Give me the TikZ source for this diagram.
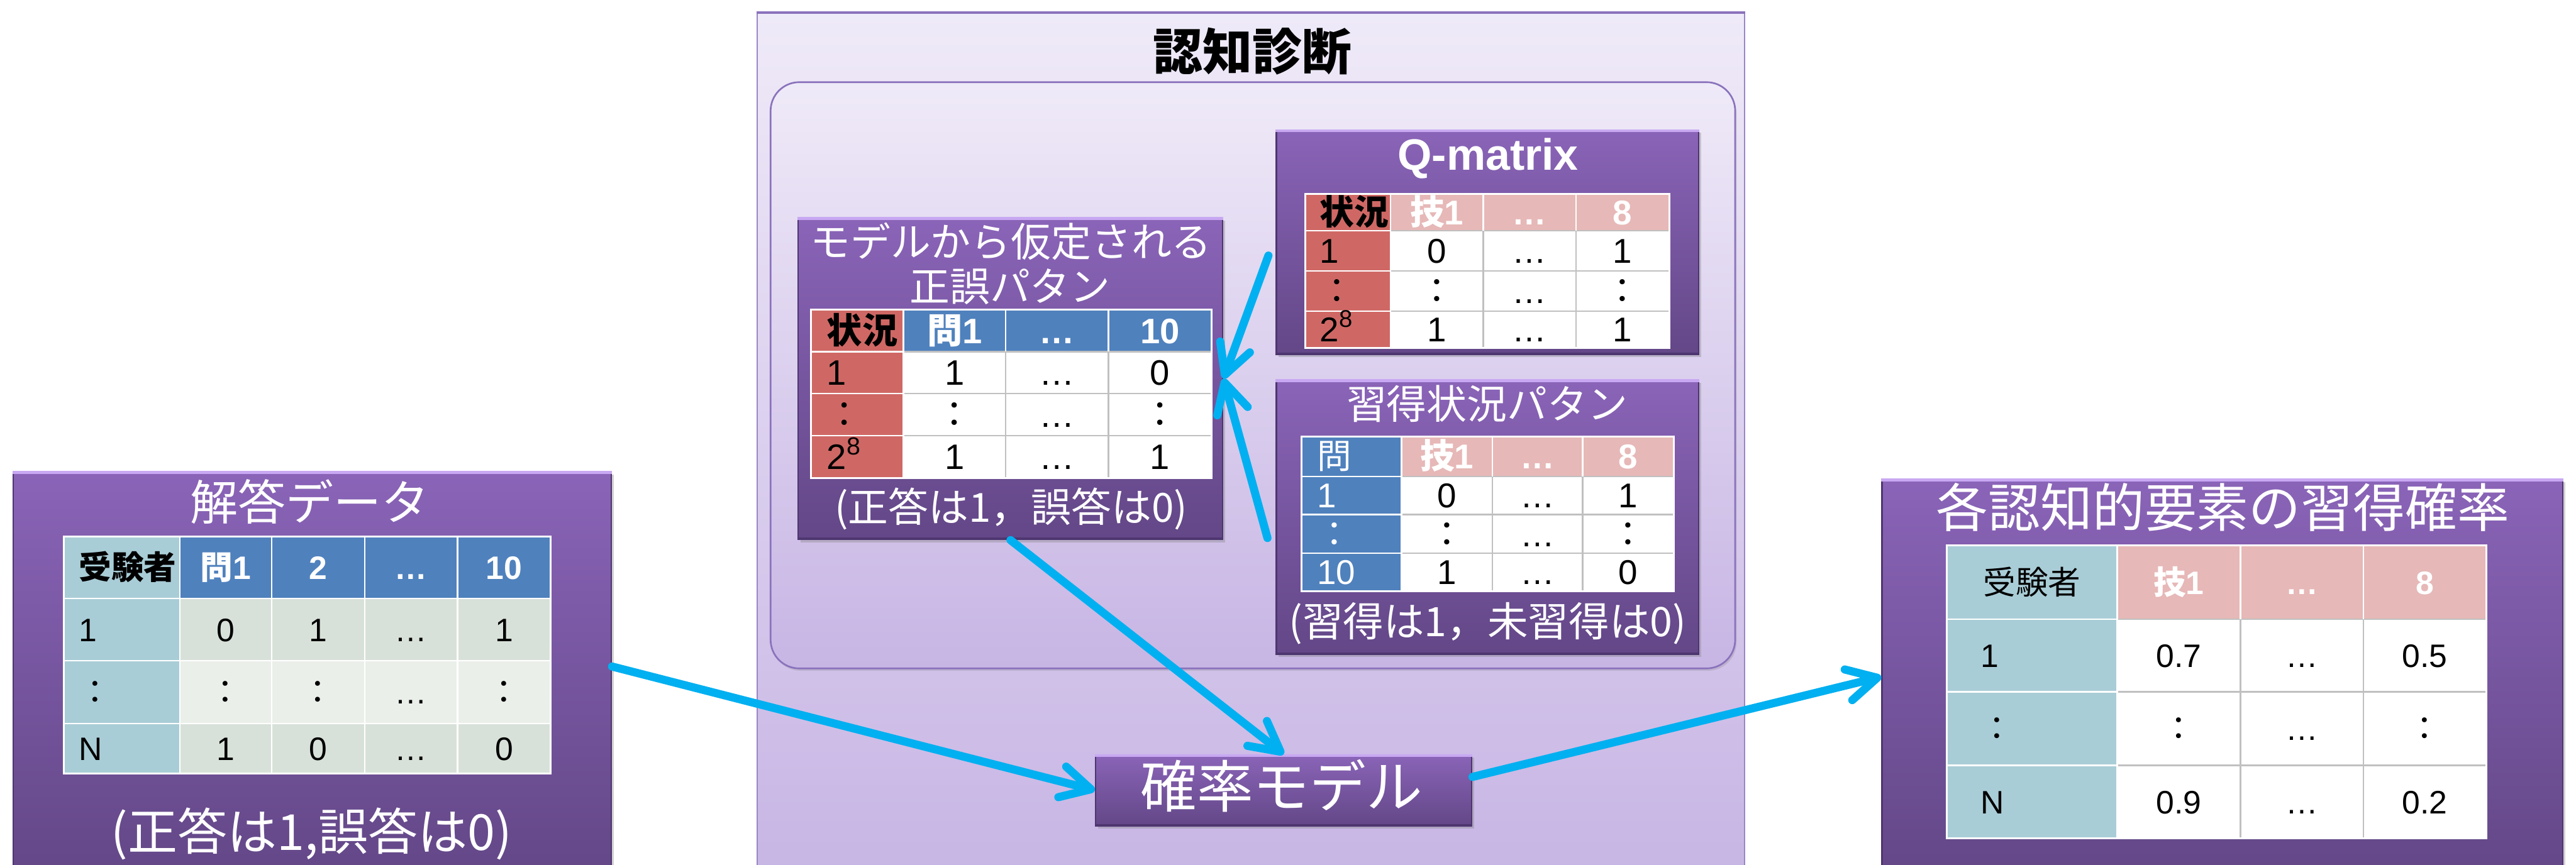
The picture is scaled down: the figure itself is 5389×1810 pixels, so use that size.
\documentclass[tikz,border=0pt]{standalone}
\usepackage{fontspec}
\setmainfont{Liberation Sans}
\newfontfamily\jp{Noto Sans CJK JP}
\usetikzlibrary{arrows.meta,shadows,calc}
\definecolor{pTop}{HTML}{8A64B8}
\definecolor{pBot}{HTML}{634787}
\definecolor{pLight}{HTML}{C8A8F2}
\definecolor{pDark}{HTML}{4E3670}
\definecolor{cyanA}{HTML}{00B0F0}
\definecolor{hBlue}{HTML}{4F81BD}
\definecolor{hRed}{HTML}{CF6865}
\definecolor{hPink}{HTML}{E6B8B7}
\definecolor{lBlue}{HTML}{A9CDD7}
\definecolor{gA}{HTML}{D8E1D9}
\definecolor{gB}{HTML}{EAEFEA}
\definecolor{gridG}{HTML}{C0C0C0}
\definecolor{panTop}{HTML}{EFEAF8}
\definecolor{panBot}{HTML}{C7B5E4}
\definecolor{panLine}{HTML}{9A86C6}
\definecolor{panEdge}{HTML}{8A72BC}
\newcommand\fs[1]{\fontsize{#1pt}{#1pt}\selectfont}
\newcommand\bevel[1]{%
  \draw[pLight, line width=0.6pt] ([yshift=-0.3pt]#1.north west) -- ([yshift=-0.3pt]#1.north east);
  \draw[pDark, line width=0.5pt] ([yshift=0.25pt]#1.south west) -- ([yshift=0.25pt]#1.south east);}
\begin{document}
\begin{tikzpicture}[x=0.1pt,y=-0.1pt,
  pbox/.style={draw=pDark, line width=0.3pt, top color=pTop, bottom color=pBot, inner sep=0pt,
    drop shadow={opacity=0.35, shadow xshift=0.5pt, shadow yshift=-0.6pt}},
  outerpanel/.style={draw=panLine, line width=0.3pt, top color=panTop, bottom color=panBot, inner sep=0pt},
  innerpanel/.style={draw=panEdge, line width=0.35pt, rounded corners=6pt, top color=panTop, bottom color=panBot, inner sep=0pt,
    drop shadow={opacity=0.25, shadow xshift=0.3pt, shadow yshift=-0.5pt}},
  wt/.style={text=white, inner sep=0pt},
  bfn/.style={execute at begin node=\bfseries},
  tA/.style={inner sep=0pt, text height=4.9pt, text depth=0pt, font=\fs{6.8}},
  tB/.style={inner sep=0pt, text height=5.3pt, text depth=0pt, font=\fs{7.4}},
  tC/.style={inner sep=0pt, text height=5.2pt, text depth=0pt, font=\fs{7.2}},
  tE/.style={inner sep=0pt, text height=4.9pt, text depth=0pt, font=\fs{6.8}},
  arr/.style={draw=cyanA, line width=1.7pt, line cap=round, -{Straight Barb[length=6.2pt,width=6.6pt,round]}}
]
\useasboundingbox (0,0) rectangle (5389,1810);
\fill[white] (0,0) rectangle (5389,1810);
\begin{scope}
\clip (0,0) rectangle (5389,1810);

% ---------- outer panel ----------
\node[outerpanel, minimum width=206.6pt, minimum height=180.4pt] (panel) at (2617,928) {};
\draw[panEdge, line width=0.5pt] ([yshift=-0.2pt]panel.north west) -- ([yshift=-0.2pt]panel.north east);
\node[inner sep=0pt, font=\jp\fs{10.4}\bfseries] (ptitle) at (2620,107) {認知診断};
\node[innerpanel, minimum width=201.8pt, minimum height=122.7pt] (inner) at (2621,785.5) {};

% ---------- boxes ----------
\node[pbox, minimum width=125.1pt, minimum height=84.3pt] (boxA) at (653.5,1408.5) {};
\node[pbox, minimum width=88.8pt, minimum height=67.3pt] (boxB) at (2114,792.5) {};
\node[pbox, minimum width=88.4pt, minimum height=47.0pt] (boxC) at (3112,507) {};
\node[pbox, minimum width=88.4pt, minimum height=57.4pt] (boxD) at (3112,1082) {};
\node[pbox, minimum width=142.4pt, minimum height=82.7pt] (boxE) at (4649,1416.5) {};
\node[pbox, minimum width=78.7pt, minimum height=14.8pt] (boxF) at (2685.5,1654) {};
\bevel{boxA}\bevel{boxB}\bevel{boxC}\bevel{boxD}\bevel{boxE}\bevel{boxF}

% ---------- titles and captions ----------
\node[wt, font=\jp\fs{10.0}] (tA) at (648,1050) {解答データ};
\node[wt, font=\jp\fs{10.4}] (cA) at (652,1745) {(正答は1,誤答は0)};
\node[wt, font=\jp\fs{8.4}] (tB1) at (2115,505) {モデルから仮定される};
\node[wt, font=\jp\fs{8.4}] (tB2) at (2113,600) {正誤パタン};
\node[wt, font=\jp\fs{8.4}] (cB) at (2115,1065) {(正答は1，誤答は0)};
\node[wt, font=\fs{9.2}\bfseries] (tC) at (3113,331) {Q-matrix};
\node[wt, font=\jp\fs{8.4}] (tD) at (3111,845) {習得状況パタン};
\node[wt, font=\jp\fs{8.5}] (cD) at (3112,1305) {(習得は1，未習得は0)};
\node[wt, font=\jp\fs{10.9}] (tE) at (4650,1062) {各認知的要素の習得確率};
\node[wt, font=\jp\fs{11.8}] (tF) at (2681,1644) {確率モデル};

% ---------- table A (解答データ) ----------
\fill[gA] (376,1253) rectangle (1152,1383);
\fill[gB] (376,1383) rectangle (1152,1514);
\fill[gA] (376,1514) rectangle (1152,1619);
\fill[lBlue] (133,1123) rectangle (376,1619);
\fill[hBlue] (376,1123) rectangle (1152,1253);
\foreach \x in {376,568,763,957} \draw[white, line width=0.3pt] (\x,1123) -- (\x,1619);
\foreach \y in {1253,1383,1514} \draw[white, line width=0.3pt] (133,\y) -- (1152,\y);
\draw[white, line width=0.4pt] (133,1123) rectangle (1152,1619);
\node[tA, bfn, anchor=west] (A00) at (163,1188) {\jp 受験者};
\foreach \xx/\t [count=\c] in {472/{{\jp 問}1}, 665.5/2, 860/…, 1054.5/10}
  \node[tA, bfn, text=white] (A0\c) at (\xx,1188) {\t};
\foreach \y/\a/\b/\cc/\d/\e [count=\r] in {1318/1/0/1/…/1, 1448.5/{\jp ：}/{\jp ：}/{\jp ：}/…/{\jp ：}, 1566.5/N/1/0/…/0} {
  \node[tA, anchor=west] (A\r0) at (163,\y) {\a};
  \node[tA] (A\r1) at (472,\y) {\b};
  \node[tA] (A\r2) at (665.5,\y) {\cc};
  \node[tA] (A\r3) at (860,\y) {\d};
  \node[tA] (A\r4) at (1054.5,\y) {\e};
}

% ---------- table B (正誤パタン) ----------
\fill[white] (1890,736) rectangle (2534,1000);
\fill[hRed] (1696,648) rectangle (1890,1000);
\fill[hBlue] (1890,648) rectangle (2534,736);
\foreach \x in {2104,2319} \draw[gridG, line width=0.3pt] (\x,736) -- (\x,1000);
\foreach \y in {824,912} \draw[gridG, line width=0.3pt] (1890,\y) -- (2534,\y);
\draw[gridG, line width=0.3pt] (1890,736) -- (2534,736);
\foreach \x in {1890,2104,2319} \draw[white, line width=0.3pt] (\x,648) -- (\x,736);
\foreach \y in {736,824,912} \draw[white, line width=0.3pt] (1696,\y) -- (1890,\y);
\draw[white, line width=0.3pt] (1890,736) -- (1890,1000);
\draw[white, line width=0.4pt] (1696,648) rectangle (2534,1000);
\node[tB, bfn, anchor=west] (B00) at (1728,692) {\jp 状況};
\foreach \xx/\t [count=\c] in {1997/{{\jp 問}1}, 2211.5/…, 2426.5/10}
  \node[tB, bfn, text=white] (B0\c) at (\xx,692) {\t};
\foreach \y/\a/\b/\cc/\d [count=\r] in {780/1/1/…/0, 868/{\jp ：}/{\jp ：}/…/{\jp ：}, 956/{2\textsuperscript{8}}/1/…/1} {
  \node[tB, anchor=west] (B\r0) at (1728,\y) {\a};
  \node[tB] (B\r1) at (1997,\y) {\b};
  \node[tB] (B\r2) at (2211.5,\y) {\cc};
  \node[tB] (B\r3) at (2426.5,\y) {\d};
}

% ---------- table C (Q-matrix) ----------
\fill[white] (2909,483) rectangle (3492,728);
\fill[hRed] (2731,406) rectangle (2909,728);
\fill[hPink] (2909,406) rectangle (3492,483);
\foreach \x in {3103,3297} \draw[gridG, line width=0.3pt] (\x,483) -- (\x,728);
\foreach \y in {483,567,651} \draw[gridG, line width=0.3pt] (2909,\y) -- (3492,\y);
\foreach \x in {2909,3103,3297} \draw[white, line width=0.3pt] (\x,406) -- (\x,483);
\foreach \y in {483,567,651} \draw[white, line width=0.3pt] (2731,\y) -- (2909,\y);
\draw[white, line width=0.3pt] (2909,483) -- (2909,728);
\draw[white, line width=0.4pt] (2731,406) rectangle (3492,728);
\node[tC, bfn, anchor=west] (C00) at (2759,444.5) {\jp 状況};
\foreach \xx/\t [count=\c] in {3006/{{\jp 技}1}, 3200/…, 3394.5/8}
  \node[tC, bfn, text=white] (C0\c) at (\xx,444.5) {\t};
\foreach \y/\a/\b/\cc/\d [count=\r] in {525/1/0/…/1, 609/{\jp ：}/{\jp ：}/…/{\jp ：}, 689.5/{2\textsuperscript{8}}/1/…/1} {
  \node[tC, anchor=west] (C\r0) at (2759,\y) {\a};
  \node[tC] (C\r1) at (3006,\y) {\b};
  \node[tC] (C\r2) at (3200,\y) {\cc};
  \node[tC] (C\r3) at (3394.5,\y) {\d};
}

% ---------- table D (習得状況パタン) ----------
\fill[white] (2932,997) rectangle (3502,1237);
\fill[hBlue] (2723,914) rectangle (2932,1237);
\fill[hPink] (2932,914) rectangle (3502,997);
\foreach \x in {3122,3311} \draw[gridG, line width=0.3pt] (\x,997) -- (\x,1237);
\foreach \y in {997,1077,1158} \draw[gridG, line width=0.3pt] (2932,\y) -- (3502,\y);
\foreach \x in {2932,3122,3311} \draw[white, line width=0.3pt] (\x,914) -- (\x,997);
\foreach \y in {997,1077,1158} \draw[white, line width=0.3pt] (2723,\y) -- (2932,\y);
\draw[white, line width=0.3pt] (2932,997) -- (2932,1237);
\draw[white, line width=0.4pt] (2723,914) rectangle (3502,1237);
\node[tC, anchor=west, text=white] (D00) at (2753,955.5) {\jp 問};
\foreach \xx/\t [count=\c] in {3027/{{\jp 技}1}, 3216.5/…, 3406.5/8}
  \node[tC, bfn, text=white] (D0\c) at (\xx,955.5) {\t};
\foreach \y/\a/\b/\cc/\d [count=\r] in {1037/1/0/…/1, 1117.5/{\jp ：}/{\jp ：}/…/{\jp ：}, 1197.5/10/1/…/0} {
  \node[tC, anchor=west, text=white] (D\r0) at (2753,\y) {\a};
  \node[tC] (D\r1) at (3027,\y) {\b};
  \node[tC] (D\r2) at (3216.5,\y) {\cc};
  \node[tC] (D\r3) at (3406.5,\y) {\d};
}

% ---------- table E (各認知的要素の習得確率) ----------
\fill[white] (4429,1296) rectangle (5201,1755);
\fill[lBlue] (4073,1142) rectangle (4429,1755);
\fill[hPink] (4429,1142) rectangle (5201,1296);
\foreach \x in {4687,4944} \draw[gridG, line width=0.3pt] (\x,1296) -- (\x,1755);
\foreach \y in {1296,1448,1602} \draw[gridG, line width=0.3pt] (4429,\y) -- (5201,\y);
\foreach \x in {4429,4687,4944} \draw[white, line width=0.3pt] (\x,1142) -- (\x,1296);
\foreach \y in {1296,1448,1602} \draw[white, line width=0.3pt] (4073,\y) -- (4429,\y);
\draw[white, line width=0.3pt] (4429,1296) -- (4429,1755);
\draw[white, line width=0.4pt] (4073,1142) rectangle (5201,1755);
\node[tE] (E00) at (4251,1219) {\jp 受験者};
\foreach \xx/\t [count=\c] in {4558/{{\jp 技}1}, 4815.5/…, 5072.5/8}
  \node[tE, bfn, text=white] (E0\c) at (\xx,1219) {\t};
\foreach \y/\a/\b/\cc/\d [count=\r] in {1372/1/0.7/…/0.5, 1525/{\jp ：}/{\jp ：}/…/{\jp ：}, 1678.5/N/0.9/…/0.2} {
  \node[tE, anchor=west] (E\r0) at (4142,\y) {\a};
  \node[tE] (E\r1) at (4558,\y) {\b};
  \node[tE] (E\r2) at (4815.5,\y) {\cc};
  \node[tE] (E\r3) at (5072.5,\y) {\d};
}

% ---------- arrows ----------
\draw[arr] ([yshift=1.35pt]boxA.east) -- (boxF.west);
\draw[arr] (boxB.south) -- (boxF.north);
\draw[arr] ([yshift=2.8pt]boxF.east) -- (boxE.west);
\draw[arr] ([xshift=-1.5pt,yshift=-2.8pt]boxC.west) -- (boxB.east);
\draw[arr] ([xshift=-1.7pt,yshift=-4.4pt]boxD.west) -- (boxB.east);
\end{scope}
\end{tikzpicture}
\end{document}
